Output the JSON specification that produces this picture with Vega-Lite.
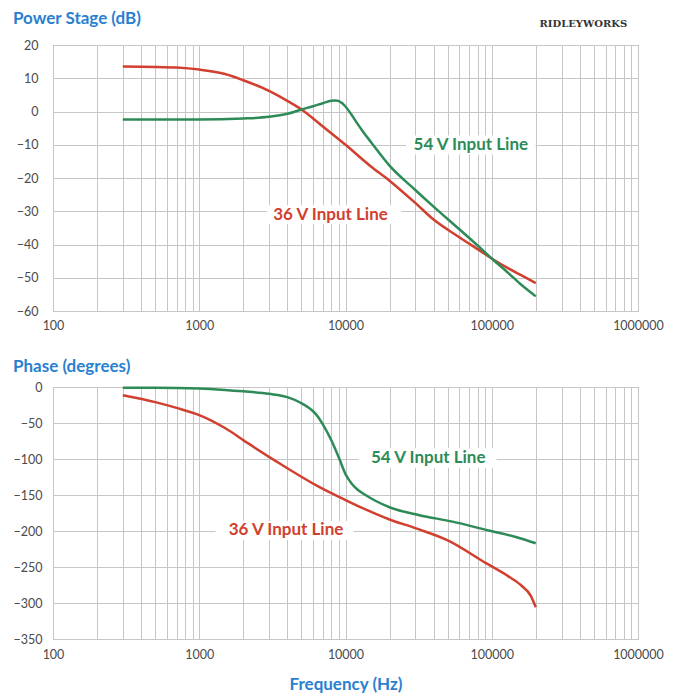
{
  "$schema": "https://vega.github.io/schema/vega-lite/v6.json",
  "padding": {"left": 12, "top": 9, "right": 5, "bottom": 0},
  "background": "white",
  "spacing": 25,
  "config": {
    "font": "Lato",
    "view": {"stroke": "#8a8a8a", "strokeWidth": 1},
    "axis": {
      "labelFont": "Lato",
      "labelFontSize": 12.5,
      "labelColor": "#4a4a4a",
      "domain": false,
      "ticks": false,
      "grid": true,
      "gridColor": "#c6c6c6",
      "gridWidth": 1,
      "gridOpacity": 1,
      "labelFlush": false
    },
    "title": {"font": "Lato", "fontSize": 17, "fontWeight": "bold", "color": "#2a7fd0", "anchor": "start", "frame": "bounds"}
  },
  "datasets": {
    "mag": [
      {"f": 300, "v": 13.5, "s": "36"}, {"f": 500, "v": 13.4, "s": "36"}, {"f": 700, "v": 13.2, "s": "36"},
      {"f": 1000, "v": 12.6, "s": "36"}, {"f": 1500, "v": 11.3, "s": "36"}, {"f": 2000, "v": 9.4, "s": "36"},
      {"f": 3000, "v": 6.2, "s": "36"}, {"f": 4000, "v": 3.2, "s": "36"}, {"f": 5000, "v": 0.6, "s": "36"},
      {"f": 7000, "v": -4.5, "s": "36"}, {"f": 10000, "v": -10.0, "s": "36"}, {"f": 15000, "v": -16.6, "s": "36"},
      {"f": 20000, "v": -20.8, "s": "36"}, {"f": 30000, "v": -27.5, "s": "36"}, {"f": 40000, "v": -32.5, "s": "36"},
      {"f": 60000, "v": -37.8, "s": "36"}, {"f": 80000, "v": -41.4, "s": "36"}, {"f": 100000, "v": -44.2, "s": "36"},
      {"f": 130000, "v": -47.2, "s": "36"}, {"f": 160000, "v": -49.3, "s": "36"}, {"f": 200000, "v": -51.6, "s": "36"},
      {"f": 300, "v": -2.4, "s": "54"}, {"f": 1000, "v": -2.4, "s": "54"}, {"f": 2000, "v": -2.1, "s": "54"},
      {"f": 3000, "v": -1.6, "s": "54"}, {"f": 4000, "v": -0.7, "s": "54"}, {"f": 5000, "v": 0.6, "s": "54"},
      {"f": 6000, "v": 1.6, "s": "54"}, {"f": 7000, "v": 2.5, "s": "54"}, {"f": 8000, "v": 3.2, "s": "54"},
      {"f": 8600, "v": 3.3, "s": "54"}, {"f": 9500, "v": 2.5, "s": "54"}, {"f": 10000, "v": 1.5, "s": "54"},
      {"f": 11000, "v": -1.0, "s": "54"}, {"f": 12000, "v": -3.5, "s": "54"}, {"f": 13000, "v": -5.7, "s": "54"},
      {"f": 15000, "v": -9.3, "s": "54"}, {"f": 20000, "v": -16.3, "s": "54"}, {"f": 30000, "v": -23.6, "s": "54"},
      {"f": 40000, "v": -28.6, "s": "54"}, {"f": 60000, "v": -35.4, "s": "54"}, {"f": 80000, "v": -40.3, "s": "54"},
      {"f": 100000, "v": -44.2, "s": "54"}, {"f": 130000, "v": -48.6, "s": "54"}, {"f": 160000, "v": -52.2, "s": "54"},
      {"f": 200000, "v": -55.6, "s": "54"}
    ],
    "phase": [
      {"f": 300, "v": -11.5, "s": "36"}, {"f": 500, "v": -21, "s": "36"}, {"f": 700, "v": -29, "s": "36"},
      {"f": 1000, "v": -39, "s": "36"}, {"f": 1500, "v": -57, "s": "36"}, {"f": 2150, "v": -78, "s": "36"},
      {"f": 3600, "v": -107, "s": "36"}, {"f": 6500, "v": -138, "s": "36"}, {"f": 10000, "v": -157, "s": "36"},
      {"f": 13700, "v": -170, "s": "36"}, {"f": 20000, "v": -184, "s": "36"}, {"f": 30000, "v": -196, "s": "36"},
      {"f": 50000, "v": -213, "s": "36"}, {"f": 92000, "v": -245, "s": "36"}, {"f": 130000, "v": -263, "s": "36"},
      {"f": 160000, "v": -276, "s": "36"}, {"f": 185000, "v": -290, "s": "36"}, {"f": 200000, "v": -306, "s": "36"},
      {"f": 300, "v": -1, "s": "54"}, {"f": 500, "v": -1, "s": "54"}, {"f": 1000, "v": -2, "s": "54"},
      {"f": 1500, "v": -4, "s": "54"}, {"f": 2000, "v": -6, "s": "54"}, {"f": 3000, "v": -9.5, "s": "54"},
      {"f": 4000, "v": -14, "s": "54"}, {"f": 5000, "v": -22.5, "s": "54"}, {"f": 6500, "v": -41.6, "s": "54"},
      {"f": 7000, "v": -52, "s": "54"}, {"f": 8000, "v": -74, "s": "54"}, {"f": 9000, "v": -98, "s": "54"},
      {"f": 10000, "v": -121, "s": "54"}, {"f": 11000, "v": -134, "s": "54"}, {"f": 12000, "v": -142, "s": "54"},
      {"f": 13700, "v": -150, "s": "54"}, {"f": 16000, "v": -158, "s": "54"}, {"f": 20000, "v": -167, "s": "54"},
      {"f": 32000, "v": -178, "s": "54"}, {"f": 54000, "v": -187, "s": "54"}, {"f": 92000, "v": -198.6, "s": "54"},
      {"f": 150000, "v": -209, "s": "54"}, {"f": 200000, "v": -217, "s": "54"}
    ],
    "magLabels": [
      {"f": 71900, "v": -10, "t": "54 V Input Line", "s": "54"},
      {"f": 7900, "v": -31, "t": "36 V Input Line", "s": "36"}
    ],
    "magBoxes": [
      {"f1": 26000, "f2": 199000, "v1": -7.2, "v2": -12.9},
      {"f1": 2900, "f2": 24000, "v1": -28.2, "v2": -33.8}
    ],
    "phaseLabels": [
      {"f": 36800, "v": -99, "t": "54 V Input Line", "s": "54"},
      {"f": 3920, "v": -199, "t": "36 V Input Line", "s": "36"}
    ],
    "phaseBoxes": [
      {"f1": 12300, "f2": 108000, "v1": -85, "v2": -112},
      {"f1": 1290, "f2": 11350, "v1": -186, "v2": -212}
    ],
    "logo": [{"f": 423000, "v": 26.3, "t": "RIDLEYWORKS"}]
  },
  "vconcat": [
    {
      "width": 585,
      "height": 266,
      "title": {"text": "Power Stage (dB)", "offset": -9},
      "layer": [
        {
          "data": {"name": "mag"},
          "mark": {"type": "line", "strokeWidth": 2.5, "interpolate": "monotone"},
          "encoding": {
            "x": {"field": "f", "type": "quantitative", "scale": {"type": "log", "domain": [100, 1000000], "nice": false},
              "axis": {"title": null, "values": [100,200,300,400,500,600,700,800,900,1000,2000,3000,4000,5000,6000,7000,8000,9000,10000,20000,30000,40000,50000,60000,70000,80000,90000,100000,200000,300000,400000,500000,600000,700000,800000,900000,1000000],
                "labelExpr": "indexof([100,1000,10000,100000,1000000], datum.value) >= 0 ? format(datum.value, 'd') : ''", "labelPadding": 8}},
            "y": {"field": "v", "type": "quantitative", "scale": {"domain": [-60, 20], "nice": false},
              "axis": {"title": null, "tickCount": 9, "labelPadding": 15, "minExtent": 40, "maxExtent": 40}},
            "color": {"field": "s", "type": "nominal", "scale": {"domain": ["36", "54"], "range": ["#d1402f", "#2e8b57"]}, "legend": null}
          }
        },
        {
          "data": {"name": "magBoxes"},
          "mark": {"type": "rect", "color": "white"},
          "encoding": {
            "x": {"field": "f1", "type": "quantitative"},
            "x2": {"field": "f2"},
            "y": {"field": "v1", "type": "quantitative"},
            "y2": {"field": "v2"}
          }
        },
        {
          "data": {"name": "magLabels"},
          "mark": {"type": "text", "fontSize": 17, "fontWeight": "bold", "font": "Lato", "align": "center", "baseline": "middle"},
          "encoding": {
            "x": {"field": "f", "type": "quantitative"},
            "y": {"field": "v", "type": "quantitative"},
            "text": {"field": "t"},
            "color": {"field": "s", "type": "nominal", "legend": null}
          }
        },
        {
          "data": {"name": "logo"},
          "mark": {"type": "text", "fontSize": 10, "fontWeight": "bold", "font": "DejaVu Serif", "color": "#333333", "align": "center", "baseline": "middle"},
          "encoding": {
            "x": {"field": "f", "type": "quantitative"},
            "y": {"field": "v", "type": "quantitative"},
            "text": {"field": "t"}
          }
        }
      ]
    },
    {
      "width": 585,
      "height": 252,
      "title": {"text": "Phase (degrees)", "offset": 5},
      "layer": [
        {
          "data": {"name": "phase"},
          "mark": {"type": "line", "strokeWidth": 2.5, "interpolate": "monotone"},
          "encoding": {
            "x": {"field": "f", "type": "quantitative", "scale": {"type": "log", "domain": [100, 1000000], "nice": false},
              "axis": {"title": "Frequency (Hz)", "titleFont": "Lato", "titleFontSize": 17, "titleFontWeight": "bold", "titleColor": "#2a7fd0", "titlePadding": 16,
                "values": [100,200,300,400,500,600,700,800,900,1000,2000,3000,4000,5000,6000,7000,8000,9000,10000,20000,30000,40000,50000,60000,70000,80000,90000,100000,200000,300000,400000,500000,600000,700000,800000,900000,1000000],
                "labelExpr": "indexof([100,1000,10000,100000,1000000], datum.value) >= 0 ? format(datum.value, 'd') : ''", "labelPadding": 9}},
            "y": {"field": "v", "type": "quantitative", "scale": {"domain": [-350, 0], "nice": false},
              "axis": {"title": null, "tickCount": 8, "labelPadding": 11, "minExtent": 40, "maxExtent": 40}},
            "color": {"field": "s", "type": "nominal", "scale": {"domain": ["36", "54"], "range": ["#d1402f", "#2e8b57"]}, "legend": null}
          }
        },
        {
          "data": {"name": "phaseBoxes"},
          "mark": {"type": "rect", "color": "white"},
          "encoding": {
            "x": {"field": "f1", "type": "quantitative"},
            "x2": {"field": "f2"},
            "y": {"field": "v1", "type": "quantitative"},
            "y2": {"field": "v2"}
          }
        },
        {
          "data": {"name": "phaseLabels"},
          "mark": {"type": "text", "fontSize": 17, "fontWeight": "bold", "font": "Lato", "align": "center", "baseline": "middle"},
          "encoding": {
            "x": {"field": "f", "type": "quantitative"},
            "y": {"field": "v", "type": "quantitative"},
            "text": {"field": "t"},
            "color": {"field": "s", "type": "nominal", "legend": null}
          }
        }
      ]
    }
  ]
}
